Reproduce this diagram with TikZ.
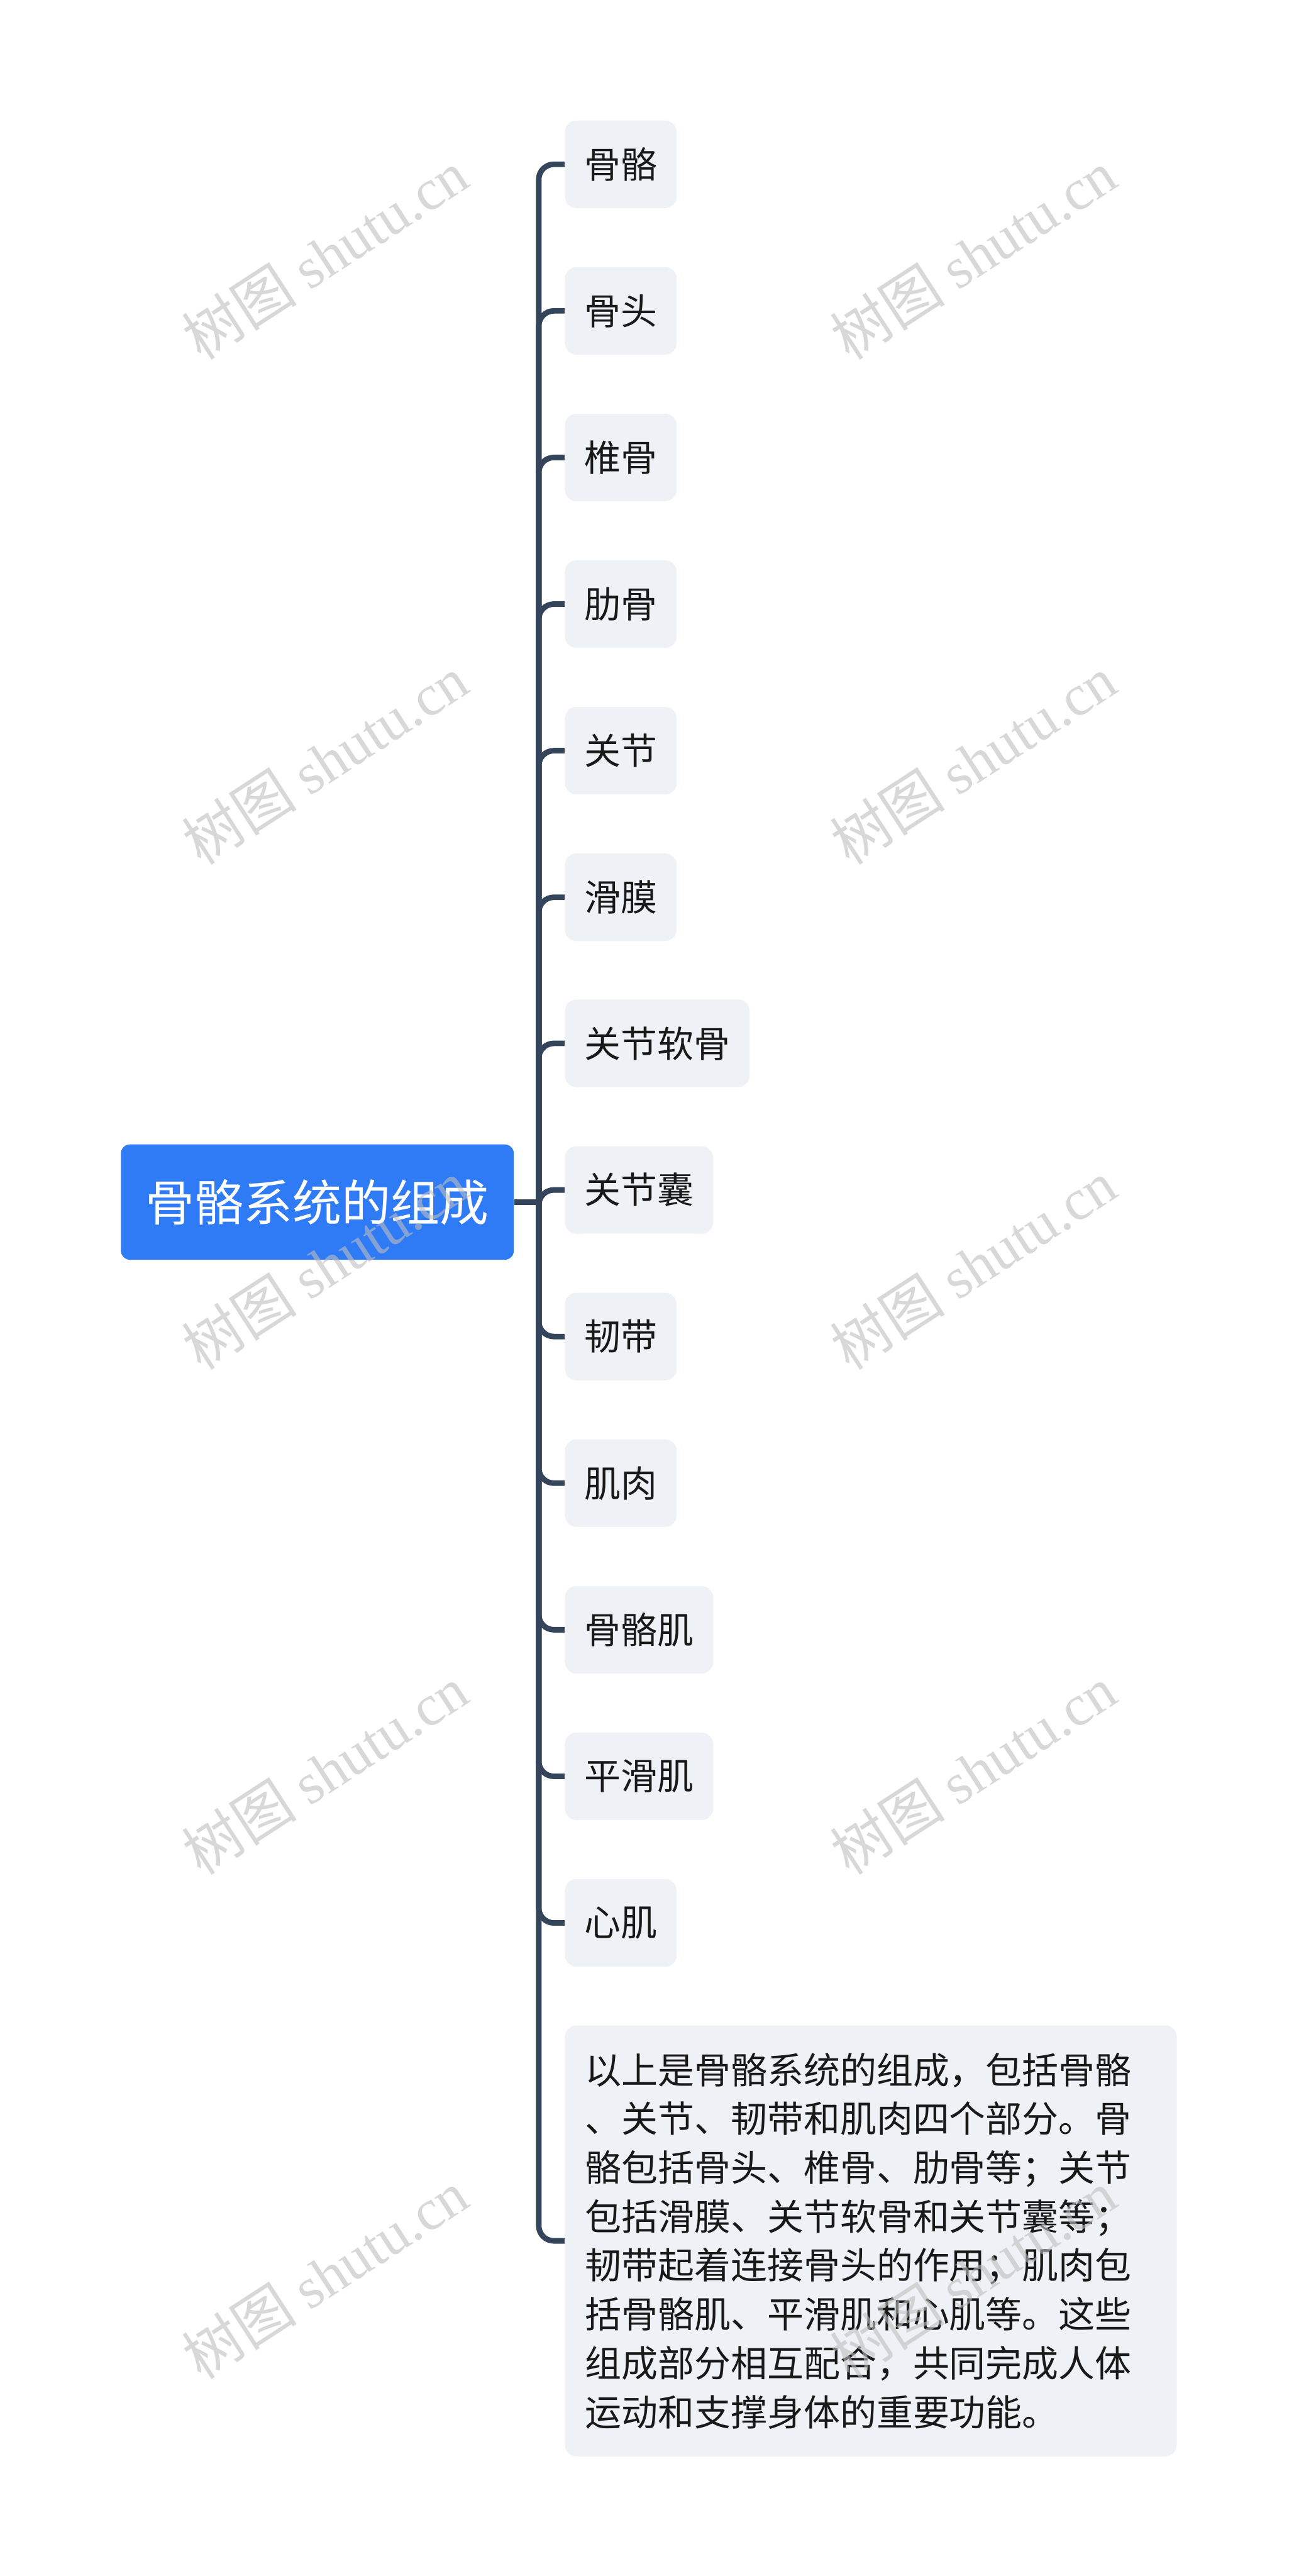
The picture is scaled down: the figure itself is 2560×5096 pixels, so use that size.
\documentclass[tikz,border=0pt]{standalone}
\usepackage{fontspec}
\setmainfont{Noto Sans CJK SC}
\newfontfamily\wmlatin{Liberation Serif}
\definecolor{rootblue}{HTML}{2F7BF6}
\definecolor{leafgray}{HTML}{EEF1F5}
\definecolor{linkslate}{HTML}{34445B}
\definecolor{wmgray}{RGB}{190,190,190}

\begin{document}
\begin{tikzpicture}[x=0.01cm, y=-0.01cm,
    rootnode/.style = {fill=rootblue, rounded corners=0.18cm, text=white, font=\fontsize{27.6pt}{33pt}\selectfont, inner xsep=0.49cm, inner ysep=0pt, minimum height=2.28cm},
    leafnode/.style = {fill=leafgray, rounded corners=0.23cm, text=black!90, font=\fontsize{20.5pt}{24pt}\selectfont, inner xsep=0.385cm, inner ysep=0pt, minimum height=1.73cm, anchor=west},
    notenode/.style = {leafnode, font=\fontsize{20.5pt}{27.5pt}\selectfont, text width=11.3cm, align=left, inner xsep=0.4cm, minimum height=8.52cm},
    branch/.style = {draw=linkslate, line width=0.11cm, rounded corners=0.3cm},
    wmtext/.style = {text=wmgray, text opacity=0.6, rotate=33, font=\fontsize{32.5pt}{36pt}\selectfont}]
        \fill[white] (0,0) rectangle (2560,5096);
        \useasboundingbox (0,0) rectangle (2560,5096);
        \node[rootnode] (root) at (628,2378) {骨骼系统的组成};
        \coordinate (hub) at (1066,2378);
        \node[leafnode] (gugeA) at (1117,325) {骨骼};
        \node[leafnode] (gutou) at (1117,615) {骨头};
        \node[leafnode] (zhuigu) at (1117,905) {椎骨};
        \node[leafnode] (leigu) at (1117,1195) {肋骨};
        \node[leafnode] (guanjie) at (1117,1485) {关节};
        \node[leafnode] (huamo) at (1117,1775) {滑膜};
        \node[leafnode] (ruangu) at (1117,2064) {关节软骨};
        \node[leafnode] (nang) at (1117,2354) {关节囊};
        \node[leafnode] (rendai) at (1117,2644) {韧带};
        \node[leafnode] (jirou) at (1117,2934) {肌肉};
        \node[leafnode] (gugeji) at (1117,3224) {骨骼肌};
        \node[leafnode] (huaji) at (1117,3514) {平滑肌};
        \node[leafnode] (xinji) at (1117,3804) {心肌};
        \node[notenode] (note) at (1117,4433) {以上是骨骼系统的组成，包括骨骼\\、关节、韧带和肌肉四个部分。骨\\骼包括骨头、椎骨、肋骨等；关节\\包括滑膜、关节软骨和关节囊等；\\韧带起着连接骨头的作用；肌肉包\\括骨骼肌、平滑肌和心肌等。这些\\组成部分相互配合，共同完成人体\\运动和支撑身体的重要功能。};
        \draw[branch] (root.east) -- (hub);
        \draw[branch] (hub) |- (gugeA.west);
        \draw[branch] (hub) |- (gutou.west);
        \draw[branch] (hub) |- (zhuigu.west);
        \draw[branch] (hub) |- (leigu.west);
        \draw[branch] (hub) |- (guanjie.west);
        \draw[branch] (hub) |- (huamo.west);
        \draw[branch] (hub) |- (ruangu.west);
        \draw[branch] (hub) |- (nang.west);
        \draw[branch] (hub) |- (rendai.west);
        \draw[branch] (hub) |- (jirou.west);
        \draw[branch] (hub) |- (gugeji.west);
        \draw[branch] (hub) |- (huaji.west);
        \draw[branch] (hub) |- (xinji.west);
        \draw[branch] (hub) |- (note.west);
        % watermarks
        \node[wmtext] (wmA) at (643,504) {树图 {\wmlatin shutu.cn}};
        \node[wmtext] (wmB) at (1926,504) {树图 {\wmlatin shutu.cn}};
        \node[wmtext] (wmC) at (643,1504) {树图 {\wmlatin shutu.cn}};
        \node[wmtext] (wmD) at (1926,1504) {树图 {\wmlatin shutu.cn}};
        \node[wmtext] (wmE) at (643,2502) {树图 {\wmlatin shutu.cn}};
        \node[wmtext] (wmF) at (1926,2502) {树图 {\wmlatin shutu.cn}};
        \node[wmtext] (wmG) at (643,3502) {树图 {\wmlatin shutu.cn}};
        \node[wmtext] (wmH) at (1926,3502) {树图 {\wmlatin shutu.cn}};
        \node[wmtext] (wmI) at (643,4500) {树图 {\wmlatin shutu.cn}};
        \node[wmtext] (wmJ) at (1926,4500) {树图 {\wmlatin shutu.cn}};
    \end{tikzpicture}
\end{document}
